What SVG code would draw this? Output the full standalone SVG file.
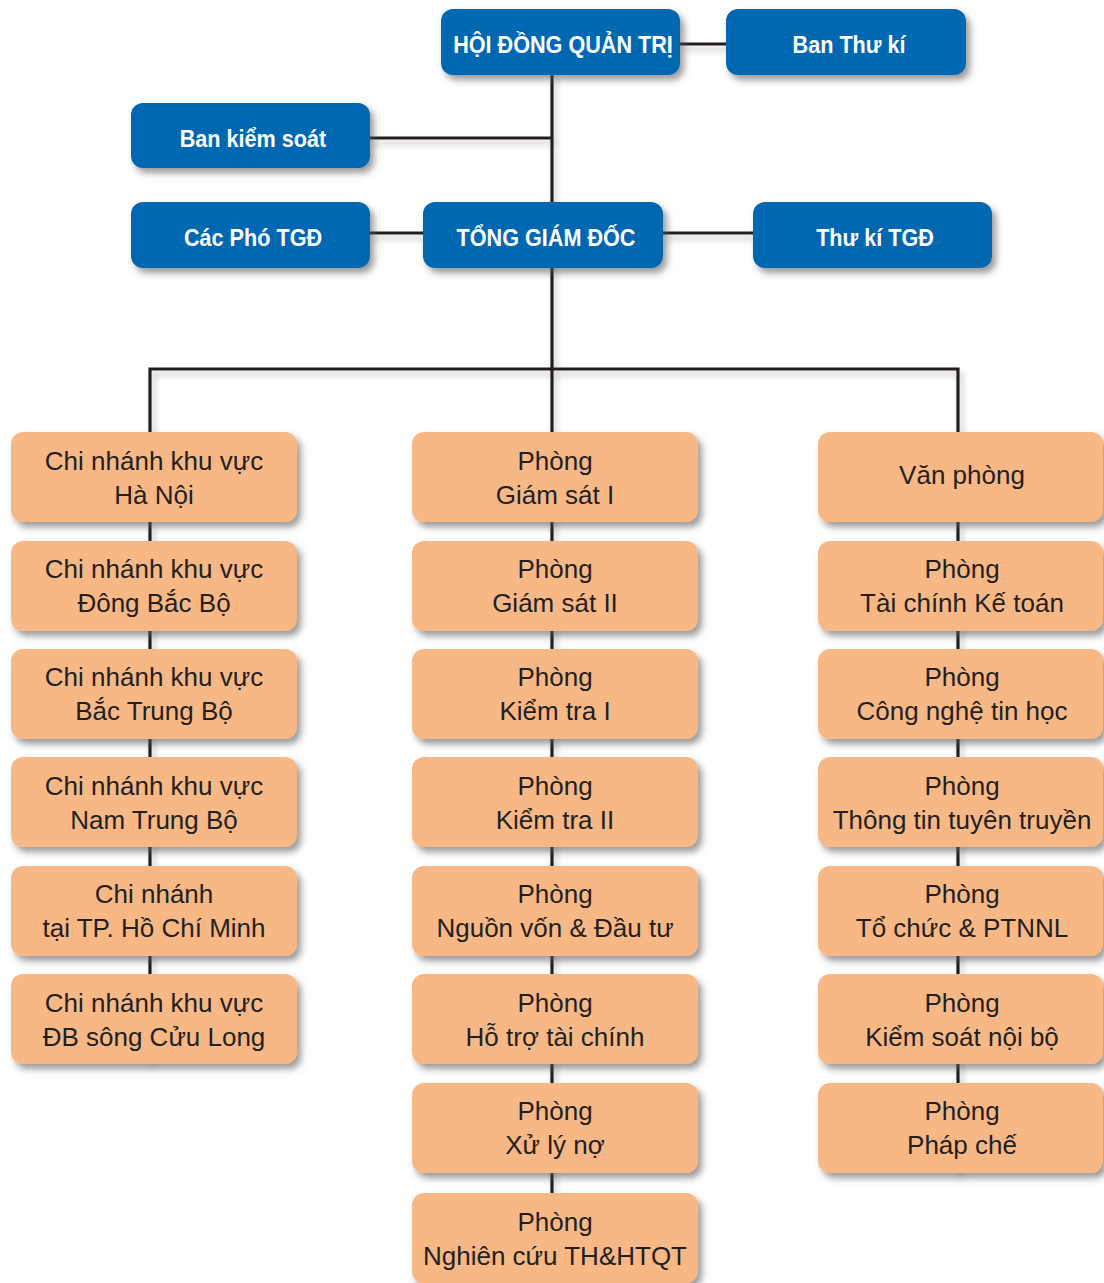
<svg xmlns="http://www.w3.org/2000/svg" width="1104" height="1283" viewBox="0 0 1104 1283">
<defs>
<filter id="sh" x="-10%" y="-20%" width="130%" height="160%">
<feDropShadow dx="4" dy="5" stdDeviation="3.5" flood-color="#555" flood-opacity="0.6"/>
</filter>
<filter id="lsh" x="-5%" y="-5%" width="110%" height="110%">
<feDropShadow dx="3" dy="5" stdDeviation="3" flood-color="#777" flood-opacity="0.45"/>
</filter>
</defs>
<style>
.b{fill:#0067B1;filter:url(#sh)}
.o{fill:#F8B886;filter:url(#sh)}
.bt{font-family:"Liberation Sans",Arial,sans-serif;font-weight:bold;font-size:23px;fill:#fff;text-anchor:middle}
.ot{font-family:"Liberation Sans",Arial,sans-serif;font-size:26px;fill:#231F20;text-anchor:middle}
.c{stroke:#231F20;stroke-width:3.2;fill:none}
</style>
<rect width="1104" height="1283" fill="#fff"/>
<g id="connectors" class="c" filter="url(#lsh)">
<path d="M552 75V1193"/>
<path d="M680 44H726"/>
<path d="M370 138H552"/>
<path d="M370 233H423"/>
<path d="M663 233H753"/>
<path d="M150 432V369H958V432"/>
<path d="M150 522V1063"/>
<path d="M958 522V1172"/>
</g>
<g id="hdqt"><rect class="b" x="441" y="9" width="239" height="66" rx="12"/><text class="bt" transform="translate(563 53) scale(0.94 1)">HỘI ĐỒNG QUẢN TRỊ</text></g>
<g id="banthuki"><rect class="b" x="726" y="9" width="240" height="66" rx="12"/><text class="bt" transform="translate(849 53) scale(0.94 1)">Ban Thư kí</text></g>
<g id="bankiemsoat"><rect class="b" x="131" y="103" width="239" height="65" rx="12"/><text class="bt" transform="translate(253 147) scale(0.94 1)">Ban kiểm soát</text></g>
<g id="photgd"><rect class="b" x="131" y="202" width="239" height="66" rx="12"/><text class="bt" transform="translate(253 246) scale(0.94 1)">Các Phó TGĐ</text></g>
<g id="tgd"><rect class="b" x="423" y="202" width="240" height="66" rx="12"/><text class="bt" transform="translate(546 246) scale(0.94 1)">TỔNG GIÁM ĐỐC</text></g>
<g id="thukitgd"><rect class="b" x="753" y="202" width="239" height="66" rx="12"/><text class="bt" transform="translate(875 246) scale(0.94 1)">Thư kí TGĐ</text></g>

<g id="l1"><rect class="o" x="11" y="432" width="286" height="90" rx="12"/><text class="ot" x="154" y="470">Chi nhánh khu vực</text><text class="ot" x="154" y="504">Hà Nội</text></g>
<g id="l2"><rect class="o" x="11" y="541" width="286" height="90" rx="12"/><text class="ot" x="154" y="578">Chi nhánh khu vực</text><text class="ot" x="154" y="612">Đông Bắc Bộ</text></g>
<g id="l3"><rect class="o" x="11" y="649" width="286" height="90" rx="12"/><text class="ot" x="154" y="686">Chi nhánh khu vực</text><text class="ot" x="154" y="720">Bắc Trung Bộ</text></g>
<g id="l4"><rect class="o" x="11" y="757" width="286" height="90" rx="12"/><text class="ot" x="154" y="795">Chi nhánh khu vực</text><text class="ot" x="154" y="829">Nam Trung Bộ</text></g>
<g id="l5"><rect class="o" x="11" y="866" width="286" height="90" rx="12"/><text class="ot" x="154" y="903">Chi nhánh</text><text class="ot" x="154" y="937">tại TP. Hồ Chí Minh</text></g>
<g id="l6"><rect class="o" x="11" y="974" width="286" height="90" rx="12"/><text class="ot" x="154" y="1012">Chi nhánh khu vực</text><text class="ot" x="154" y="1046">ĐB sông Cửu Long</text></g>

<g id="m1"><rect class="o" x="412" y="432" width="286" height="90" rx="12"/><text class="ot" x="555" y="470">Phòng</text><text class="ot" x="555" y="504">Giám sát I</text></g>
<g id="m2"><rect class="o" x="412" y="541" width="286" height="90" rx="12"/><text class="ot" x="555" y="578">Phòng</text><text class="ot" x="555" y="612">Giám sát II</text></g>
<g id="m3"><rect class="o" x="412" y="649" width="286" height="90" rx="12"/><text class="ot" x="555" y="686">Phòng</text><text class="ot" x="555" y="720">Kiểm tra I</text></g>
<g id="m4"><rect class="o" x="412" y="757" width="286" height="90" rx="12"/><text class="ot" x="555" y="795">Phòng</text><text class="ot" x="555" y="829">Kiểm tra II</text></g>
<g id="m5"><rect class="o" x="412" y="866" width="286" height="90" rx="12"/><text class="ot" x="555" y="903">Phòng</text><text class="ot" x="555" y="937">Nguồn vốn &amp; Đầu tư</text></g>
<g id="m6"><rect class="o" x="412" y="974" width="286" height="90" rx="12"/><text class="ot" x="555" y="1012">Phòng</text><text class="ot" x="555" y="1046">Hỗ trợ tài chính</text></g>
<g id="m7"><rect class="o" x="412" y="1083" width="286" height="90" rx="12"/><text class="ot" x="555" y="1120">Phòng</text><text class="ot" x="555" y="1154">Xử lý nợ</text></g>
<g id="m8"><rect class="o" x="412" y="1193" width="286" height="90" rx="12"/><text class="ot" x="555" y="1231">Phòng</text><text class="ot" x="555" y="1265">Nghiên cứu TH&amp;HTQT</text></g>

<g id="r1"><rect class="o" x="818" y="432" width="285" height="90" rx="12"/><text class="ot" x="962" y="484">Văn phòng</text></g>
<g id="r2"><rect class="o" x="818" y="541" width="285" height="90" rx="12"/><text class="ot" x="962" y="578">Phòng</text><text class="ot" x="962" y="612">Tài chính Kế toán</text></g>
<g id="r3"><rect class="o" x="818" y="649" width="285" height="90" rx="12"/><text class="ot" x="962" y="686">Phòng</text><text class="ot" x="962" y="720">Công nghệ tin học</text></g>
<g id="r4"><rect class="o" x="818" y="757" width="285" height="90" rx="12"/><text class="ot" x="962" y="795">Phòng</text><text class="ot" x="962" y="829">Thông tin tuyên truyền</text></g>
<g id="r5"><rect class="o" x="818" y="866" width="285" height="90" rx="12"/><text class="ot" x="962" y="903">Phòng</text><text class="ot" x="962" y="937">Tổ chức &amp; PTNNL</text></g>
<g id="r6"><rect class="o" x="818" y="974" width="285" height="90" rx="12"/><text class="ot" x="962" y="1012">Phòng</text><text class="ot" x="962" y="1046">Kiểm soát nội bộ</text></g>
<g id="r7"><rect class="o" x="818" y="1083" width="285" height="90" rx="12"/><text class="ot" x="962" y="1120">Phòng</text><text class="ot" x="962" y="1154">Pháp chế</text></g>
</svg>
